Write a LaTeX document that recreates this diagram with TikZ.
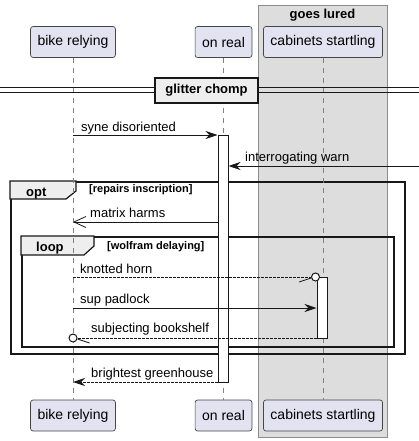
\documentclass[tikz,border=0pt]{standalone}
\usepackage{fontspec}
\setmainfont{Liberation Sans}
\usetikzlibrary{arrows.meta, positioning, calc}
\definecolor{umlInk}{HTML}{181818}
\definecolor{umlLav}{HTML}{E2E2F0}
\definecolor{umlGrp}{HTML}{DDDDDD}
\definecolor{umlGrpLine}{HTML}{8C8C8C}
\definecolor{umlTab}{HTML}{EEEEEE}
\newcommand{\fsz}[1]{\fontsize{#1}{#1}\selectfont}

\begin{document}
\begin{tikzpicture}[x=1pt,y=-1pt,
  part/.style={draw=umlInk!80,fill=umlLav,rounded corners=2.5pt,line width=0.7pt,
               minimum height=31pt,inner xsep=7pt,font=\fsz{14}},
  life/.style={draw=umlInk!55,line width=0.6pt,dash pattern=on 5pt off 5pt},
  actbar/.style={draw=umlInk,fill=white,line width=1pt,minimum width=10pt,inner sep=0pt},
  msg/.style={draw=umlInk,line width=0.9pt,-{Stealth[length=12pt,width=8pt,inset=4pt]}},
  dmsg/.style={msg,dash pattern=on 2.5pt off 1.5pt},
  omsg/.style={draw=umlInk,line width=0.9pt,-{Straight Barb[length=12pt,width=11pt,line width=0.8pt]}},
  lolli/.style={circle,draw=umlInk,fill=white,line width=1pt,minimum size=8pt,inner sep=0pt},
  frame/.style={draw=umlInk,line width=1.8pt,anchor=north west,inner sep=0pt},
  tabshape/.style={draw=umlInk,fill=umlTab,line width=1.2pt},
  lbl/.style={font=\fsz{13},inner sep=0pt,anchor=base west},
  cond/.style={font=\fsz{11}\bfseries,inner sep=0pt,anchor=base west},
  kw/.style={font=\fsz{13}\bfseries,inner sep=0pt,anchor=base west}]
\useasboundingbox (0,0) rectangle (419,441);

% ===== Box: goes lured =====
\draw[fill=umlGrp,draw=umlGrpLine,line width=1pt] (258,6) rectangle (387,437);
\node[font=\fsz{13}\bfseries,inner sep=0pt,anchor=base] (grpttl) at (322.5,19) {goes lured};

% ===== Fragments =====
\node[frame,minimum width=394pt,minimum height=172pt] (optbox) at (10,181) {};
\draw[tabshape] (optbox.north west) -- ++(66,0) -- ++(0,10) -- ++(-10,8) -- ++(-56,0) -- cycle;
\node[kw] (optkw) at (26,196) {opt};
\node[cond] (optcond) at (89,192) {[repairs inscription]};

\node[frame,minimum width=372pt,minimum height=110pt] (loopbox) at (21,236) {};
\draw[tabshape] (loopbox.north west) -- ++(73,0) -- ++(0,10) -- ++(-10,9) -- ++(-63,0) -- cycle;
\node[kw] (loopkw) at (36,251) {loop};
\node[cond] (loopcond) at (107,249) {[wolfram delaying]};

% ===== Participants =====
\node[part] (br) at (73,42) {bike relying};
\node[part] (or) at (223.5,42) {on real};
\node[part] (cs) at (323,42) {cabinets startling};
\node[part] (br2) at (73,415.5) {bike relying};
\node[part] (or2) at (223.5,415.5) {on real};
\node[part] (cs2) at (323,415.5) {cabinets startling};
\draw[life] (br.south) -- (br2.north);
\draw[life] (or.south) -- (or2.north);
\draw[life] (cs.south) -- (cs2.north);

% ===== Divider: glitter chomp =====
\draw[umlInk,line width=1pt] (0,88) -- (419,88) (0,93) -- (419,93);
\node[draw=umlInk,fill=umlTab,line width=1.5pt,minimum width=103pt,minimum height=25pt,
      inner sep=0pt,font=\fsz{13}\bfseries] (div) at (206.5,90.5) {glitter chomp};

% ===== Activations =====
\node[actbar,minimum height=247pt] (a1) at (223,258.5) {};
\node[actbar,minimum height=61pt] (a2) at (322,307.5) {};

% ===== Messages =====
\coordinate (m1) at (73,135);
\draw[msg] (m1) -- (m1 -| a1.west);
\node[lbl] (t1) at (81,131) {syne disoriented};

\coordinate (m2) at (419,166);
\draw[msg] (m2) -- (m2 -| a1.east);
\node[lbl] (t2) at (245,161) {interrogating warn};

\coordinate (m3) at (73,222);
\draw[omsg] (m3 -| a1.west) -- (m3);
\node[lbl] (t3) at (90,217) {matrix harms};

\coordinate (m4) at (73,277);
\node[lolli] (c4) at ($(m4 -| a2.west)+(-1,0)$) {};
\draw[draw=umlInk,line width=0.9pt,dash pattern=on 2.5pt off 1.5pt] (m4) -- (c4.west);
\draw[umlInk,line width=0.8pt] ($(c4.west)+(-12,5)$) -- ($(c4.west)+(0,1)$);
\node[lbl] (t4) at (80,273) {knotted horn};

\coordinate (m5) at (73,308);
\draw[msg] (m5) -- (m5 -| a2.west);
\node[lbl] (t5) at (80,303) {sup padlock};

\coordinate (m6) at (73,338);
\node[lolli] (c6) at (m6) {};
\draw[draw=umlInk,line width=0.9pt,dash pattern=on 2.5pt off 1.5pt] (m6 -| a2.west) -- (c6.east);
\draw[umlInk,line width=0.8pt] ($(c6.east)+(0,1)$) -- ($(c6.east)+(12,5)$);
\node[lbl] (t6) at (91,332) {subjecting bookshelf};

\coordinate (m7) at (73,382);
\draw[dmsg] (m7 -| a1.west) -- (m7);
\node[lbl] (t7) at (91,377) {brightest greenhouse};
\end{tikzpicture}
\end{document}
